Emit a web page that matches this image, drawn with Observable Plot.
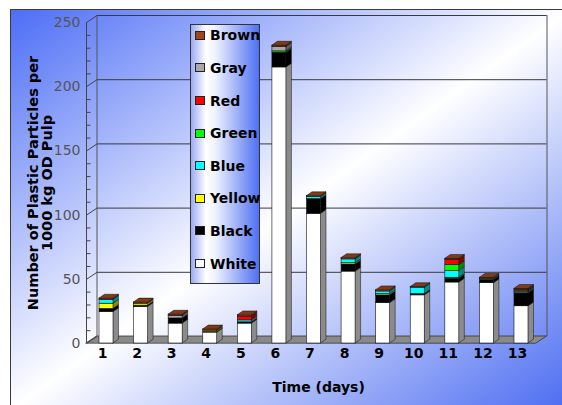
<!DOCTYPE html>
<html><head><meta charset="utf-8">
<script src="https://cdn.jsdelivr.net/npm/d3@7"></script>
<script src="https://cdn.jsdelivr.net/npm/@observablehq/plot@0.6"></script>
<style>
html,body{margin:0;padding:0;background:#fff;overflow:hidden;width:562px;height:405px;}
#wrap{position:relative;width:562px;height:405px;overflow:hidden;}
#frame{position:absolute;left:10px;top:9px;width:560px;height:400px;border:1px solid #3a3a3a;background:linear-gradient(to bottom right,#4d6ef6 0%,#ffffff 50%,#4a6bf1 100%);}
#chart{position:absolute;left:0;top:0;}
#legend{position:absolute;left:190px;top:24px;width:68px;height:258px;border:1px solid #333;background:linear-gradient(to right,#9aabf3 0%,#ffffff 22%,#f0f3fe 35%,#4f70f2 100%);font:bold 14px "DejaVu Sans",sans-serif;color:#000;}
.item{position:absolute;left:4px;height:16px;line-height:16px;display:flex;align-items:center;white-space:nowrap;}
.sw{width:8px;height:7px;border:1px solid #222;margin-right:5px;flex:none;}
</style></head><body>
<div id="wrap"><div id="frame"></div><div id="chart"></div><div id="legend"></div></div>
<script>
// ---- data ----
const days = [1,2,3,4,5,6,7,8,9,10,11,12,13];
const categories = ["White","Black","Yellow","Blue","Green","Red","Gray","Brown"];
const colors = ["#ffffff","#000000","#ffff00","#00ffff","#00ff00","#ff0000","#a8a8a8","#a0461e"];
const white  = [24.5,28.5,15.5,8.5,15.5,215,101,56,31.5,37.5,47.5,47,29];
const black  = [2.5,1,4,0.5,1,11.5,11.5,5.5,6,1,3,2.5,10];
const yellow = [4,1.5,0,1,0,0,0,1,1,0,0.7,0,0];
const blue   = [3,0,0,0,1.5,0,1.5,3,2,5,5.4,0,0.8];
const green  = [0,0,0,0,0,1,0,0,0,0,4.4,0.7,0.8];
const red    = [0,0,0,0,3,0,0,0,0,0,4,0,1];
const gray   = [0,0,2,0,0,3.5,0,0,0,0,0,0,0];
const brown  = [1,1,1,1,1,1,0.8,1,1,0.5,1,1,1];
const yTicks = [0,50,100,150,200,250];
const series = [white, black, yellow, blue, green, red, gray, brown];

// ---- geometry (pixel depths converted to data units) ----
const X0 = 0.4216, X1 = 13.434, YMAX = 250;
const PXX = 450/(X1-X0), PXY = 321/YMAX;
const px = v => v/PXX, py = v => v/PXY;
const DX = px(10.5), DY = py(7);
const BW = px(7), BDX = px(5.5), BDY = py(3.8);

const segs = [];
const tops = [];
days.forEach((d,i)=>{
  let acc = 0, last = null;
  series.forEach((s,k)=>{
    const v = s[i];
    if (v > 0) { last = {day:d, color:colors[k], y0:acc, y1:acc+v, id:d+"-"+k}; segs.push(last); acc += v; }
  });
  tops.push(last);
});
const shade = (c,k) => d3.color(c).darker(k).formatHex();
const sideData = segs.flatMap(s => [
  {id:s.id, x:s.day+BW, y1:s.y0, y2:s.y1, fill:shade(s.color,1.7)},
  {id:s.id, x:s.day+BW+BDX, y1:s.y0+BDY, y2:s.y1+BDY, fill:shade(s.color,1.7)}
]);
const topData = tops.flatMap(s => [
  {id:s.id, y:s.y1, x1:s.day-BW, x2:s.day+BW, fill:shade(s.color,0.6)},
  {id:s.id, y:s.y1+BDY, x1:s.day-BW+BDX, x2:s.day+BW+BDX, fill:shade(s.color,0.6)}
]);
const floorData = [{y:0, x1:X0, x2:X1}, {y:DY, x1:X0+DX, x2:X1+DX}];
const minor = d3.range(10, YMAX, 10).filter(t => t % 50 !== 0);

const chart = Plot.plot({
  width: 562, height: 405,
  marginLeft: 86, marginRight: 26, marginTop: 22, marginBottom: 62,
  x: {type: "linear", domain: [X0, X1]},
  y: {domain: [0, YMAX]},
  color: {type: "identity"},
  style: {background: "transparent", fontFamily: "DejaVu Sans", fontSize: "14px", overflow: "visible"},
  marks: [
    Plot.areaX(floorData, {y:"y", x1:"x1", x2:"x2", fill:"#8a8a8a", stroke:"#333", strokeWidth:0.8}),
    Plot.ruleY(yTicks.filter(t=>t>0), {y: t=>t+DY, x1: X0+DX, x2: X1+DX, stroke:"#3a3a3a", strokeWidth:1}),
    Plot.ruleX([X0+DX, X1+DX], {x: d=>d, y1: DY, y2: YMAX+DY, stroke:"#555", strokeWidth:1}),
    Plot.ruleX([X0], {x: d=>d, y1: 0, y2: YMAX, stroke:"#444", strokeWidth:1}),
    Plot.link(yTicks, {x1: X0, y1: t=>t, x2: X0+DX, y2: t=>t+DY, stroke:"#444", strokeWidth:1}),
    Plot.link(minor, {x1: X0, x2: X0+px(4), y1: t=>t, y2: t=>t, stroke:"#444", strokeWidth:1}),
    Plot.areaY(sideData, {x:"x", y1:"y1", y2:"y2", z:"id", fill:"fill", stroke:"#111", strokeWidth:0.5}),
    Plot.rect(segs, {x1: d=>d.day-BW, x2: d=>d.day+BW, y1:"y0", y2:"y1", fill:"color", stroke:"#111", strokeWidth:0.6}),
    Plot.areaX(topData, {y:"y", x1:"x1", x2:"x2", z:"id", fill:"fill", stroke:"#111", strokeWidth:0.5}),
    Plot.axisY({ticks: yTicks, tickSize: 0, tickPadding: 6, color: "#555", fontSize: 14, label: null}),
    Plot.axisX({ticks: days, tickSize: 0, tickPadding: 5, tickFormat: d=>String(d), fontWeight: "bold", fontSize: 14, dx: -4, color:"#000", label: null}),
    Plot.text(["Time (days)"], {text: d=>d, frameAnchor: "bottom", dy: 48, dx: 7, fontWeight: "bold", fontSize: 14, fill: "#000"}),
    Plot.text(["Number of Plastic Particles per\n1000 kg OD Pulp"], {text: d=>d, frameAnchor: "left", textAnchor: "middle", dx: -46, rotate: -90, lineHeight: 1.0, fontWeight: "bold", fontSize: 14.5, fill: "#000"})
  ]
});
document.getElementById("chart").append(chart);

// ---- legend (HTML overlay) ----
const legend = document.getElementById("legend");
categories.slice().reverse().forEach((c, i) => {
  const k = categories.indexOf(c);
  const it = document.createElement("div");
  it.className = "item";
  it.style.top = (2.3 + i*32.6) + "px";
  const sw = document.createElement("span");
  sw.className = "sw"; sw.style.background = colors[k];
  it.append(sw, document.createTextNode(c));
  legend.append(it);
});
</script></body></html>
